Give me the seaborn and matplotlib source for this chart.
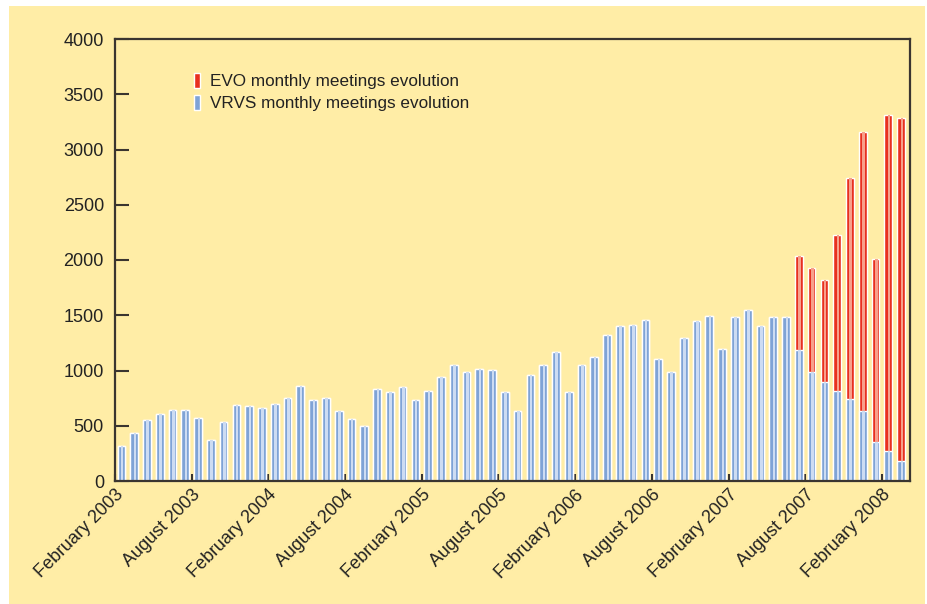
import matplotlib
matplotlib.use("Agg")
import matplotlib.pyplot as plt
from matplotlib.patches import Rectangle
import seaborn as sns
import pandas as pd

# monthly meetings, February 2003 .. March 2008
months = pd.date_range("2003-02-01", "2008-03-01", freq="MS")
vrvs = [315, 432, 549, 603, 639, 639, 567, 369, 531, 684, 675, 657,
        693, 747, 864, 729, 747, 630, 558, 495, 837, 807, 855, 729,
        819, 945, 1053, 987, 1017, 1008, 807, 630, 963, 1053, 1170, 801,
        1053, 1125, 1323, 1404, 1413, 1458, 1104, 987, 1296, 1449, 1494, 1197,
        1485, 1548, 1404, 1488, 1488, 1188, 984, 894, 810, 738, 636, 351,
        270, 180]
evo = [0] * 53 + [846, 942, 924, 1413, 2007, 2523, 1656, 3042, 3108]
tick_labels = ["February 2003", "August 2003", "February 2004", "August 2004",
               "February 2005", "August 2005", "February 2006", "August 2006",
               "February 2007", "August 2007", "February 2008"]

df = pd.DataFrame({"month": months.strftime("%Y-%m"), "vrvs": vrvs, "evo": evo})
df["total"] = df["vrvs"] + df["evo"]

bg = "#ffeda6"
ink = "#3a3530"
sns.set_theme(style="white")
plt.rcParams["font.family"] = ["Liberation Sans Narrow", "Liberation Sans", "DejaVu Sans"]

fig = plt.figure(figsize=(9.28, 6.04), dpi=100, facecolor="white")
fig.patches.append(Rectangle((9 / 928, 0), 916 / 928, 598 / 604, transform=fig.transFigure,
                             facecolor=bg, edgecolor="none", zorder=-10))
ax = fig.add_axes([115 / 928, 1 - 481 / 604, 795 / 928, 442 / 604])
ax.set_facecolor(bg)

sns.barplot(data=df, x="month", y="total", color="#e8301f", width=0.6,
            saturation=1, ax=ax, label="EVO monthly meetings evolution")
sns.barplot(data=df, x="month", y="vrvs", color="#7fa3d6", width=0.6,
            saturation=1, ax=ax, label="VRVS monthly meetings evolution")

# cylindrical highlight
x = range(len(df))
ax.bar([i + 0.06 for i in x], df["total"], width=0.2, color="#f7a08c", linewidth=0)
ax.bar([i + 0.06 for i in x], df["vrvs"], width=0.2, color="#cddcf3", linewidth=0)

ax.set_xlim(-0.5, len(df) - 0.3)
ax.set_ylim(0, 4000)
ax.set_yticks(range(0, 4001, 500))
ax.set_xticks([k - 0.5 for k in range(0, 61, 6)])
ax.set_xticklabels(tick_labels, rotation=45, ha="right", rotation_mode="anchor")
ax.set_xlabel("")
ax.set_ylabel("")
ax.tick_params(axis="y", direction="in", length=10, width=1.5, color=ink,
               labelsize=13, labelcolor="#222222", left=True, pad=8)
ax.tick_params(axis="x", direction="in", length=5, width=1.5, color=ink,
               labelsize=13, labelcolor="#222222", bottom=True, pad=4)
for s in ax.spines.values():
    s.set_visible(True)
    s.set_color(ink)
    s.set_linewidth(1.6)

leg = ax.legend(loc="upper left", bbox_to_anchor=(0.08, 0.958), frameon=False,
                fontsize=12.3, handlelength=0.35, handleheight=1.0, handletextpad=0.6,
                labelspacing=0.3)
for t in leg.get_texts():
    t.set_color("#222222")

fig.savefig("out.png", dpi=100, facecolor="white")
